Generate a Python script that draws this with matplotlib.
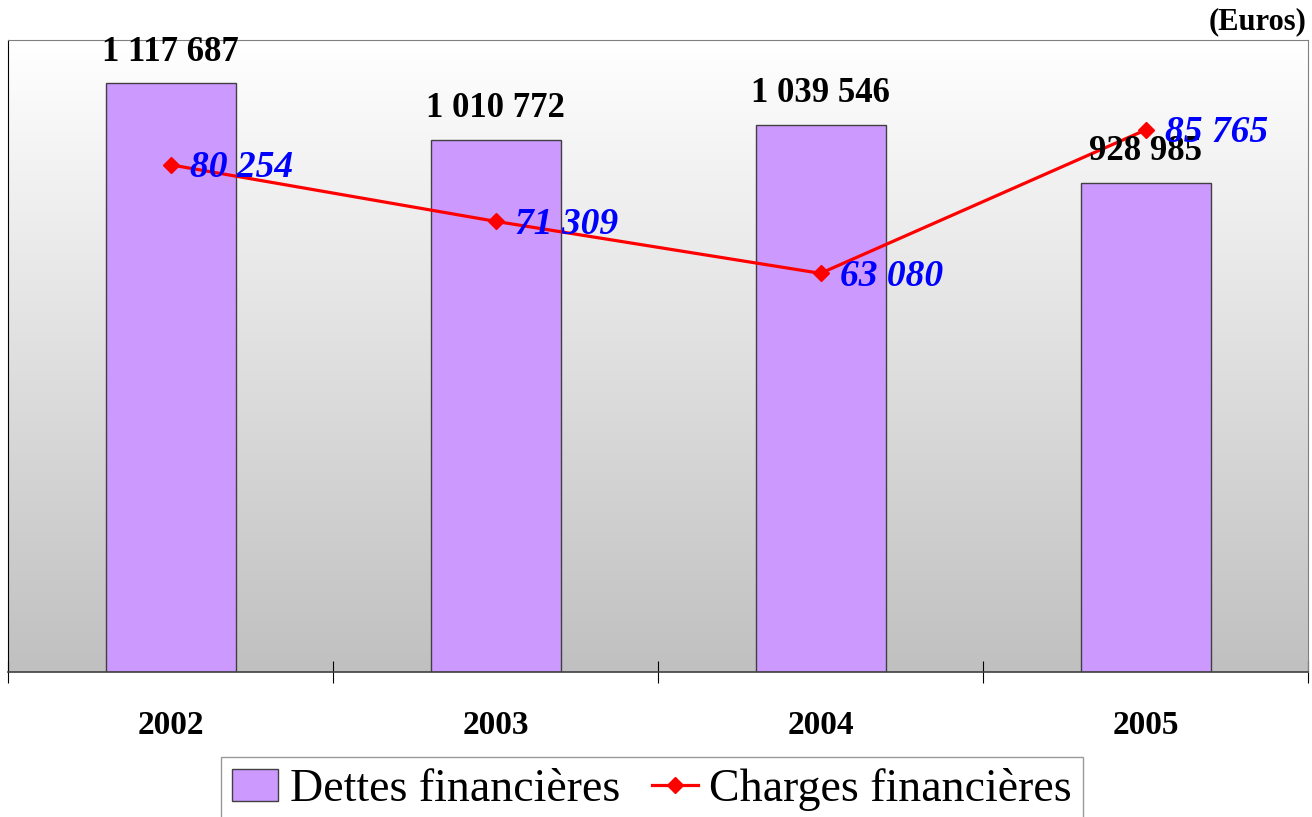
import matplotlib.pyplot as plt
import numpy as np

plt.rcParams['font.family'] = ['Liberation Serif', 'DejaVu Serif']

years = ['2002', '2003', '2004', '2005']
dettes = [1117687, 1010772, 1039546, 928985]
charges = [80254, 71309, 63080, 85765]


def fmt(v):
    return f"{v:,}".replace(",", " ")


fig = plt.figure(figsize=(13.12, 8.17), dpi=100)
ax = fig.add_axes([8 / 1312, 1 - 672 / 817, 1300 / 1312, 632 / 817])
ax2 = ax.twinx()

x = np.arange(len(years))

# gradient background, white at top to gray at bottom
grad = np.linspace(1.0, 0.0, 256).reshape(-1, 1)
ax.imshow(grad, extent=(-0.5, 3.5, 0, 1200000), aspect='auto',
          cmap=plt.matplotlib.colors.LinearSegmentedColormap.from_list(
              'bg', ['#C0C0C0', '#FFFFFF']),
          vmin=0, vmax=1, zorder=0, origin='upper')

ax.bar(x, dettes, width=0.4, color='#CC99FF', edgecolor='#404040',
       linewidth=1.0, zorder=2, label='Dettes financières')
ax.set_xlim(-0.5, 3.5)
ax.set_ylim(0, 1200000)

ax2.plot(x, charges, color='#FF0000', linewidth=2.3, marker='D',
         markersize=8.5, markerfacecolor='#FF0000', markeredgecolor='#FF0000',
         label='Charges financières', zorder=3)
ax2.set_ylim(0, 100000)
ax2.set_xlim(-0.5, 3.5)

for xi, v in zip(x, dettes):
    ax2.annotate(fmt(v), xy=(xi, v), xycoords=ax.transData,
                 xytext=(0, 10.5), textcoords='offset points',
                 ha='center', va='bottom', fontsize=25, fontweight='bold',
                 color='black', zorder=5, annotation_clip=False)

for xi, v in zip(x, charges):
    ax2.annotate(fmt(v), xy=(xi, v), xytext=(14, -2),
                 textcoords='offset points', ha='left', va='center',
                 fontsize=27, fontweight='bold', fontstyle='italic',
                 color='#0000FF', zorder=6, annotation_clip=False)

# axes styling
ax.set_yticks([])
ax2.set_yticks([])
ax.set_xticks([-0.5, 0.5, 1.5, 2.5, 3.5])
ax.set_xticks(x, minor=True)
ax.set_xticklabels(years, minor=True, fontsize=24, fontweight='bold')
ax.tick_params(axis='x', which='major', direction='inout', length=16,
               width=0.8, labelbottom=False, color='black')
ax.tick_params(axis='x', which='minor', length=0, pad=27)

for s in ['top', 'right']:
    ax.spines[s].set_color('#808080')
ax.spines['left'].set_color('black')
ax.spines['bottom'].set_color('#404040')
ax.spines['bottom'].set_linewidth(1.2)
for s in ax2.spines.values():
    s.set_visible(False)

fig.text(1306 / 1312, 1 - 7 / 817, '(Euros)', ha='right', va='top',
         fontsize=22, fontweight='bold')

h1, l1 = ax.get_legend_handles_labels()
h2, l2 = ax2.get_legend_handles_labels()
leg = fig.legend(h1 + h2, l1 + l2, loc='upper center',
                 bbox_to_anchor=(0.497, 1 - 757 / 817), ncol=2, fontsize=33,
                 frameon=True, fancybox=False, edgecolor='#808080',
                 handlelength=1.0, handletextpad=0.25, columnspacing=0.7,
                 borderpad=0.25, borderaxespad=0)
leg.get_frame().set_linewidth(1.0)

fig.savefig('out.png', dpi=100)
